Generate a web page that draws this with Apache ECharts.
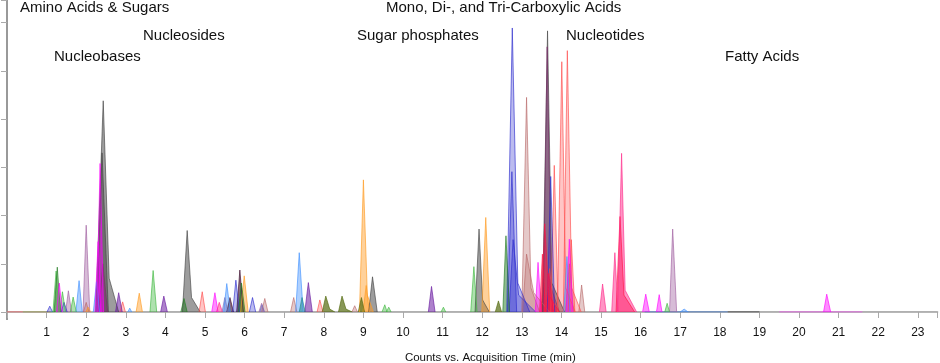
<!DOCTYPE html>
<html><head><meta charset="utf-8">
<script src="https://cdn.jsdelivr.net/npm/echarts@6/dist/echarts.min.js"></script>
<style>html,body{margin:0;padding:0;background:#fff}#c{width:940px;height:363px}</style>
</head><body><div id="c"></div>
<script>
// Peak lists: [tStart, tApex, height, tEnd] or [tStart, tApex, height, tFoot, hFoot, tEnd]
const gray = [[2.24,2.43,4.38,2.58,0.7,2.82],[2.27,2.40,3.3,2.56],[4.43,4.55,1.69,4.66,0.3,4.88],[9.13,9.23,0.73,9.35],[11.82,11.92,1.72,12.01,0.25,12.18],[13.52,13.65,5.83,13.76,0.6,14.08]];
const plum = [[13.54,13.64,5.5,13.74,0.5,13.95],[2.32,2.42,1.0,2.54]];
const darkPlum = [[5.80,5.88,0.87,5.97],[5.55,5.63,0.3,5.72]];
const magenta = [[1.25,1.32,0.6,1.40],[2.22,2.30,1.46,2.38],[2.27,2.35,3.08,2.44],[5.17,5.25,0.40,5.33],[13.34,13.41,1.03,13.49],[14.12,14.20,1.51,14.29],[16.05,16.13,0.37,16.22],[16.40,16.47,0.36,16.54],[20.62,20.70,0.37,20.80]];
const lavender = [[1.92,2.00,1.80,2.09],[1.48,1.55,0.44,1.63],[6.36,6.43,0.18,6.50],[16.73,16.81,1.72,16.91]];
const green = [[1.19,1.27,0.93,1.35],[4.39,4.47,0.28,4.55],[5.84,5.92,0.6,6.01],[12.52,12.60,1.58,12.69]];
const lightGreen = [[1.16,1.24,0.85,1.31],[1.33,1.40,0.42,1.48],[1.60,1.67,0.31,1.75],[3.61,3.69,0.86,3.78],[9.47,9.54,0.15,9.60],[9.58,9.64,0.1,9.70],[10.96,11.02,0.1,11.08],[11.71,11.79,0.94,11.87],[16.61,16.67,0.18,16.73]];
const lightBlue = [[1.74,1.82,0.65,1.90],[2.18,2.26,0.63,2.34],[3.05,3.10,0.08,3.15],[5.47,5.55,0.59,5.64],[7.29,7.38,1.23,7.48],[14.06,14.14,1.15,14.22],[17.00,17.10,0.06,17.20]];
const blue = [[1.01,1.08,0.12,1.15],[1.37,1.44,0.2,1.52],[5.70,5.78,0.66,5.87],[6.12,6.20,0.3,6.28],[12.62,12.76,5.89,12.90,0.6,13.20],[12.64,12.75,2.91,12.87],[12.68,12.78,1.5,12.92,0.35,13.35],[13.64,13.73,2.81,13.83]];
const purple = [[2.74,2.82,0.40,2.91],[3.88,3.96,0.33,4.05],[7.52,7.61,0.61,7.71],[10.64,10.72,0.53,10.81]];
const salmon = [[2.85,2.92,0.21,2.99],[4.85,4.93,0.42,5.01],[7.83,7.90,0.25,7.98],[13.90,14.01,5.19,14.11,0.5,14.35],[14.05,14.15,5.42,14.26,0.5,14.50],[13.73,13.82,3.04,13.92],[14.17,14.25,1.5,14.34],[13.60,13.70,0.9,13.82]];
const orange = [[1.99,2.05,0.1,2.11],[3.26,3.34,0.39,3.42],[5.90,5.99,0.75,6.09],[8.90,9.00,2.74,9.10,0.35,9.25],[8.99,9.07,0.55,9.15],[11.99,12.09,1.96,12.19]];
const rose = [[6.43,6.51,0.28,6.59],[7.16,7.24,0.3,7.32],[8.71,8.78,0.13,8.85],[13.00,13.12,4.45,13.23,0.5,13.45],[13.02,13.12,1.2,13.30,0.4,13.70],[14.10,14.20,1.0,14.31],[14.44,14.51,0.56,14.59],[1.93,2.00,0.2,2.07]];
const olive = [[7.96,8.05,0.33,8.15,0.06,8.28],[8.37,8.46,0.33,8.56,0.06,8.72],[8.87,8.95,0.3,9.03],[12.33,12.41,0.23,12.49]];
const crimson = [[13.49,13.58,1.83,13.68,0.35,13.95],[13.45,13.52,1.2,13.60],[15.38,15.48,1.98,15.58,0.35,15.85],[13.60,13.68,0.8,13.80]];
const hotPink = [[14.96,15.04,0.58,15.13],[15.27,15.35,1.23,15.43],[15.42,15.52,3.29,15.61,0.45,15.90],[5.29,5.36,0.2,5.44]];
const teal = [[7.38,7.45,0.3,7.53]];
const slate = [[5.43,5.50,0.3,5.58],[6.38,6.44,0.15,6.50]];
// Baseline traces: [start, end]
const baseGray = [0, 23.5];
const baseBlue = [16.1, 18.2];
const baseDark = [18.2, 19.0];
const baseMagenta = [19.5, 21.6];
const baseSalmon = [0, 1.1];
const baseLightGreen = [0.4, 1.2];
const xTicks = [1,2,3,4,5,6,7,8,9,10,11,12,13,14,15,16,17,18,19,20,21,22,23];
const groupLabels = [
  ["Amino Acids & Sugars", 20, 8],
  ["Mono, Di-, and Tri-Carboxylic Acids", 386, 8],
  ["Nucleosides", 143, 36],
  ["Sugar phosphates", 357, 36],
  ["Nucleotides", 566, 36],
  ["Nucleobases", 54, 57],
  ["Fatty Acids", 725, 57]
];

const groups = [
  [gray, '#444444', 0.52],
  [plum, '#7a2a6a', 0.45],
  [darkPlum, '#3a0a2a', 0.6],
  [lavender, '#a060a0', 0.42],
  [rose, '#b86a6a', 0.36],
  [salmon, '#ff4a4a', 0.32],
  [orange, '#ff9a20', 0.45],
  [lightBlue, '#3d8fff', 0.42],
  [blue, '#2a2acc', 0.32],
  [slate, '#7070c0', 0.45],
  [lightGreen, '#3fb83f', 0.42],
  [green, '#1f7a1f', 0.5],
  [purple, '#6a1aa0', 0.55],
  [olive, '#556b10', 0.7],
  [teal, '#208888', 0.55],
  [magenta, '#ff00ff', 0.45],
  [crimson, '#ff1040', 0.5],
  [hotPink, '#ff2a8a', 0.5]
];
const series = [];
const bases = [[baseGray,'#999999'],[baseSalmon,'#ff5050'],[baseLightGreen,'#66cc66'],[baseBlue,'#2266cc'],[baseDark,'#222222'],[baseMagenta,'#ff44ff']];
bases.forEach(b => series.push({type:'line', data:[[b[0][0],0],[b[0][1],0]], showSymbol:false, silent:true,
  lineStyle:{color:b[1], width:1.2, opacity:0.8}, z:1}));
groups.forEach(g => {
  g[0].forEach(p => {
    const pts = [[p[0],0],[p[1],p[2]]];
    if (p.length === 6) { pts.push([p[3],p[4]]); pts.push([p[5],0]); }
    else pts.push([p[3],0]);
    series.push({type:'line', data:pts, showSymbol:false, silent:true, smooth:false,
      lineStyle:{color:g[1], width:0.8, opacity:0.8},
      areaStyle:{color:g[1], opacity:g[2]}, z:2});
  });
});

const chart = echarts.init(document.getElementById('c'), null, {renderer:'canvas'});
const axisFont = "'Liberation Sans', Arial, sans-serif";
chart.setOption({
  animation:false,
  grid:{left:7, right:2.4, top:0, bottom:51, containLabel:false, outerBoundsMode:'none'},
  xAxis:{type:'value', min:0, max:23.5, interval:1, offset:7,
    axisLine:{lineStyle:{color:'#aaaaaa', width:1.5}},
    axisTick:{length:6, lineStyle:{color:'#aaaaaa', width:1}},
    axisLabel:{margin:8, color:'#111', fontSize:12, fontFamily:axisFont,
      formatter: v => xTicks.indexOf(v) >= 0 ? String(v) : ''},
    splitLine:{show:false},
    name:'Counts vs. Acquisition Time (min)', nameLocation:'middle', nameGap:33,
    nameTextStyle:{color:'#111', fontSize:11.5, fontFamily:axisFont, padding:[0,0,0,36]}},
  yAxis:{type:'value', min:0, max:6.47, interval:1,
    axisLine:{show:true, lineStyle:{color:'#999999', width:2}},
    axisTick:{show:true, length:6, lineStyle:{color:'#aaaaaa'}},
    axisLabel:{show:false}, splitLine:{show:false}},
  series: series,
  graphic: [{type:'line', shape:{x1:7, y1:311, x2:7, y2:320}, style:{stroke:'#999999', lineWidth:2}}].concat(
    groupLabels.map(l => ({type:'text', left:l[1], top:l[2]-8,
      style:{text:l[0], fill:'#111', font:"15px 'Liberation Sans', Arial, sans-serif"}})))
});
</script></body></html>
